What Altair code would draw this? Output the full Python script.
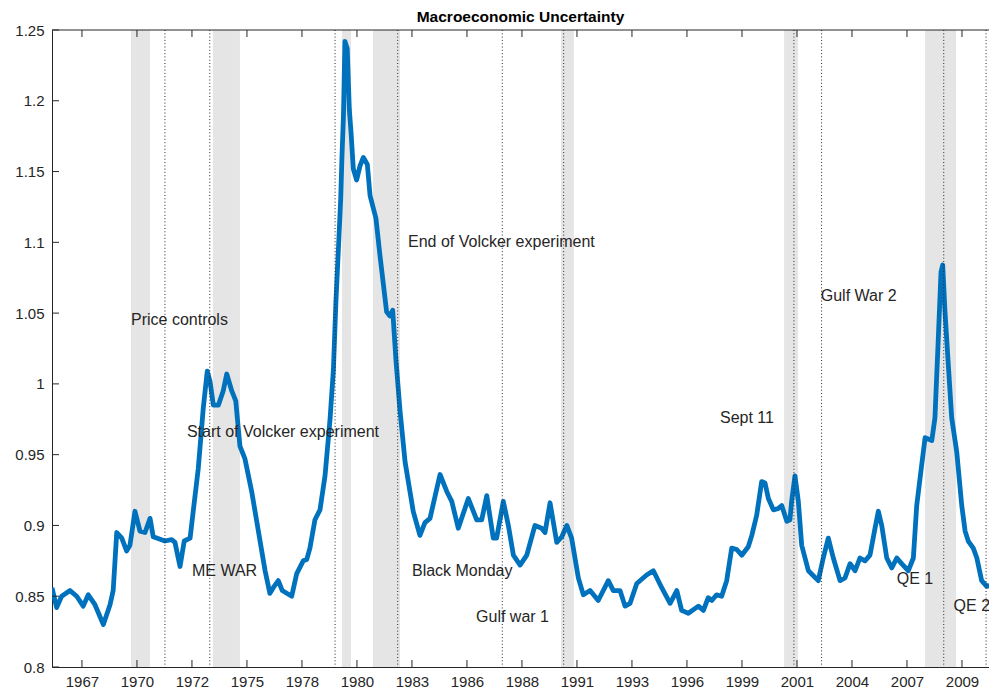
import altair as alt
import pandas as pd

# ---- data ----
years = [1966.27, 1966.49, 1966.73, 1967.13, 1967.45, 1967.76, 1968.00, 1968.32, 1968.72, 1969.04,
         1969.19, 1969.36, 1969.60, 1969.83, 1969.99, 1970.23, 1970.47, 1970.71, 1970.95, 1971.10,
         1971.66, 1971.98, 1972.14, 1972.38, 1972.58, 1972.86, 1973.01, 1973.25, 1973.49, 1973.68,
         1973.81, 1973.97, 1974.21, 1974.44, 1974.61, 1974.85, 1975.04, 1975.24, 1975.48, 1975.80,
         1976.12, 1976.44, 1976.67, 1976.83, 1977.07, 1977.26, 1977.71, 1977.95, 1978.26, 1978.43,
         1978.58, 1978.82, 1979.06, 1979.30, 1979.54, 1979.70, 1979.82, 1979.97, 1980.05, 1980.11,
         1980.18, 1980.25, 1980.36, 1980.46, 1980.54, 1980.65, 1980.81, 1980.97, 1981.13, 1981.32,
         1981.45, 1981.73, 1981.92, 1982.24, 1982.40, 1982.53, 1982.69, 1982.88, 1983.12, 1983.51,
         1983.83, 1984.07, 1984.31, 1984.79, 1985.11, 1985.35, 1985.66, 1986.14, 1986.54, 1986.78,
         1987.02, 1987.33, 1987.49, 1987.81, 1988.05, 1988.29, 1988.61, 1988.93, 1989.32, 1989.64,
         1989.80, 1990.04, 1990.36, 1990.60, 1990.84, 1991.07, 1991.39, 1991.63, 1991.95, 1992.34,
         1992.82, 1993.06, 1993.38, 1993.62, 1993.86, 1994.18, 1994.65, 1994.97, 1995.37, 1995.77,
         1996.09, 1996.32, 1996.64, 1997.12, 1997.36, 1997.59, 1997.76, 1997.99, 1998.23, 1998.47,
         1998.71, 1998.95, 1999.19, 1999.50, 1999.67, 1999.90, 2000.14, 2000.30, 2000.46, 2000.70,
         2000.94, 2001.10, 2001.34, 2001.49, 2001.57, 2001.73, 2001.89, 2002.05, 2002.37, 2002.84,
         2003.08, 2003.32, 2003.56, 2003.88, 2004.12, 2004.36, 2004.60, 2004.83, 2005.07, 2005.31,
         2005.55, 2005.71, 2005.87, 2006.11, 2006.35, 2006.59, 2006.82, 2007.14, 2007.38, 2007.54,
         2007.78, 2007.94, 2008.26, 2008.41, 2008.57, 2008.70, 2008.78, 2008.89, 2009.05, 2009.21,
         2009.45, 2009.69, 2009.85, 2010.00, 2010.24, 2010.41, 2010.64, 2010.88, 2011.20, 2011.37]
values = [0.856, 0.842, 0.850, 0.854, 0.850, 0.843, 0.851, 0.844, 0.830, 0.844,
          0.854, 0.895, 0.891, 0.882, 0.886, 0.910, 0.896, 0.895, 0.905, 0.892,
          0.889, 0.890, 0.888, 0.871, 0.889, 0.891, 0.910, 0.940, 0.983, 1.009,
          1.002, 0.985, 0.985, 0.995, 1.007, 0.995, 0.988, 0.956, 0.947, 0.924,
          0.896, 0.868, 0.852, 0.856, 0.861, 0.854, 0.850, 0.866, 0.875, 0.876,
          0.884, 0.904, 0.911, 0.935, 0.975, 1.010, 1.058, 1.105, 1.131, 1.161,
          1.189, 1.242, 1.237, 1.194, 1.178, 1.152, 1.144, 1.154, 1.160, 1.155,
          1.133, 1.117, 1.091, 1.051, 1.048, 1.052, 1.016, 0.981, 0.945, 0.910,
          0.893, 0.902, 0.905, 0.936, 0.924, 0.917, 0.898, 0.919, 0.904, 0.904,
          0.921, 0.891, 0.891, 0.917, 0.900, 0.879, 0.872, 0.879, 0.900, 0.898,
          0.895, 0.916, 0.888, 0.892, 0.900, 0.891, 0.863, 0.851, 0.854, 0.847,
          0.861, 0.854, 0.854, 0.843, 0.845, 0.859, 0.865, 0.868, 0.856, 0.845,
          0.854, 0.840, 0.838, 0.843, 0.840, 0.849, 0.847, 0.851, 0.850, 0.861,
          0.884, 0.883, 0.879, 0.885, 0.893, 0.907, 0.931, 0.930, 0.919, 0.911,
          0.912, 0.914, 0.903, 0.904, 0.917, 0.935, 0.917, 0.886, 0.868, 0.861,
          0.877, 0.891, 0.877, 0.861, 0.863, 0.873, 0.868, 0.877, 0.875, 0.879,
          0.898, 0.910, 0.900, 0.877, 0.870, 0.877, 0.873, 0.868, 0.877, 0.914,
          0.943, 0.962, 0.960, 0.976, 1.032, 1.079, 1.084, 1.051, 1.013, 0.976,
          0.952, 0.914, 0.896, 0.889, 0.884, 0.877, 0.861, 0.857, 0.858, 0.863]

rec_start = [1970.04, 1973.95, 1980.11, 1981.59, 1990.56, 2001.21, 2007.94]
rec_end = [1970.95, 1975.24, 1980.54, 1982.88, 1991.18, 2001.87, 2009.42]

event_years = [1971.66, 1973.80, 1979.78, 1982.77, 1987.76, 1990.69, 2001.68, 2003.00, 2008.83, 2010.85]

ann_text = ["Price controls", "ME WAR", "Start of Volcker experiment", "End of Volcker experiment",
            "Black Monday", "Gulf war 1", "Sept 11", "Gulf War 2", "QE 1", "QE 2"]
ann_year = [1970.04, 1972.95, 1972.71, 1983.26, 1983.45, 1986.51, 1998.15, 2002.96, 2006.59, 2009.30]
ann_value = [1.045, 0.868, 0.966, 1.1005, 0.868, 0.835, 0.976, 1.062, 0.862, 0.843]

x_labels = ["1967", "1970", "1972", "1975", "1978", "1980", "1983", "1986", "1988",
            "1991", "1993", "1996", "1999", "2001", "2004", "2007", "2009"]
first_tick = 1967.70
tick_step = 2.625
y_ticks = [0.8, 0.85, 0.9, 0.95, 1.0, 1.05, 1.1, 1.15, 1.2, 1.25]

# ---- styling ----
W, H = 937, 637
FONT = "Liberation Sans"
INK = "#262626"
BLUE = "#0072BD"

x_tick_vals = [round(first_tick + i * tick_step, 4) for i in range(len(x_labels))]
label_expr = ("[" + ",".join("'%s'" % l for l in x_labels) + "]"
              + "[round((datum.value - %s) / %s)]" % (first_tick, tick_step))

xs = alt.Scale(domain=[1966.27, 2010.99], nice=False, zero=False)
ys = alt.Scale(domain=[0.8, 1.25], nice=False, zero=False)

xaxis = alt.Axis(values=x_tick_vals, labelExpr=label_expr, title=None, ticks=False, tickSize=0,
                 domain=True, domainColor=INK, domainWidth=1, grid=False, labelFont=FONT,
                 labelFontSize=15, labelColor=INK, labelPadding=7, labelOverlap=False,
                 labelFlush=False)
yaxis = alt.Axis(values=y_ticks, format="~g", title=None, ticks=False, tickSize=0,
                 domain=True, domainColor=INK, domainWidth=1, grid=False, labelFont=FONT,
                 labelFontSize=15, labelColor=INK, labelPadding=8, labelOverlap=False,
                 labelFlush=False)

df_line = pd.DataFrame({"year": years, "value": values})
df_rec = pd.DataFrame({"start": rec_start, "end": rec_end})
df_ev = pd.DataFrame({"year": event_years})
df_ann = pd.DataFrame({"label": ann_text, "year": ann_year, "value": ann_value})
df_xt = pd.DataFrame({"year": x_tick_vals})
df_yt = pd.DataFrame({"value": y_ticks})
df_one = pd.DataFrame({"k": [0]})

rec = alt.Chart(df_rec).mark_rect(color="#e5e5e5").encode(
    x=alt.X("start:Q", scale=xs, axis=xaxis),
    x2="end:Q",
    y=alt.value(0), y2=alt.value(H),
)

line = alt.Chart(df_line).mark_line(color=BLUE, strokeWidth=4.8, strokeJoin="round", clip=True).encode(
    x=alt.X("year:Q", scale=xs, axis=xaxis),
    y=alt.Y("value:Q", scale=ys, axis=yaxis),
)

events = alt.Chart(df_ev).mark_rule(color=INK, strokeWidth=1, strokeDash=[1, 2.3]).encode(
    x=alt.X("year:Q", scale=xs, axis=xaxis),
    y=alt.value(0), y2=alt.value(H),
)

xt_bottom = alt.Chart(df_xt).mark_rule(color=INK, strokeWidth=1).encode(
    x=alt.X("year:Q", scale=xs, axis=xaxis), y=alt.value(H - 7), y2=alt.value(H))
xt_top = alt.Chart(df_xt).mark_rule(color=INK, strokeWidth=1).encode(
    x=alt.X("year:Q", scale=xs, axis=xaxis), y=alt.value(0), y2=alt.value(7))
yt_left = alt.Chart(df_yt).mark_rule(color=INK, strokeWidth=1).encode(
    y=alt.Y("value:Q", scale=ys, axis=yaxis), x=alt.value(0), x2=alt.value(7))
top_border = alt.Chart(df_one).mark_rule(color=INK, strokeWidth=1).encode(
    x=alt.value(0), x2=alt.value(W), y=alt.value(0))

ann = alt.Chart(df_ann).mark_text(align="left", baseline="middle", font=FONT, fontSize=16,
                                  color=INK).encode(
    x=alt.X("year:Q", scale=xs, axis=xaxis),
    y=alt.Y("value:Q", scale=ys, axis=yaxis),
    text="label:N",
)

chart = alt.layer(rec, line, events, xt_bottom, xt_top, yt_left, top_border, ann).properties(
    width=W, height=H,
    title=alt.TitleParams("Macroeconomic Uncertainty", font=FONT, fontSize=15.5, fontWeight="bold",
                          color="black", anchor="middle", offset=0, dy=2),
    padding={"left": 44, "top": 22, "right": 0, "bottom": 22},
    autosize=alt.AutoSizeParams(type="none"),
    background="white",
).configure_view(stroke=None)

chart.save("out.html", embed_options={"renderer": "svg", "actions": False})
